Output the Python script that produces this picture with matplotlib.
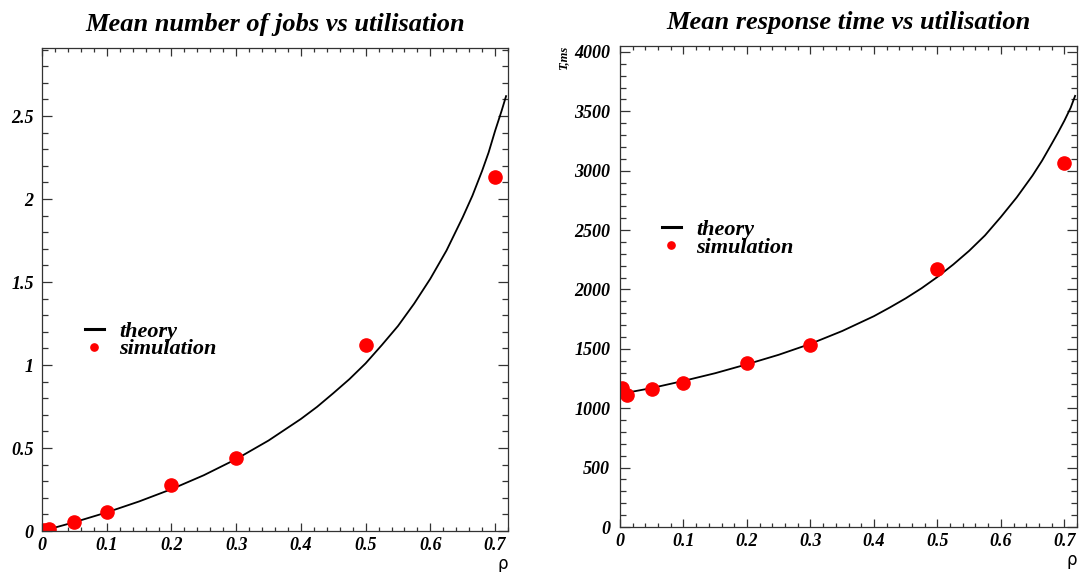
import numpy as np
import matplotlib
matplotlib.use('Agg')
import matplotlib.pyplot as plt
from matplotlib.ticker import MultipleLocator, FormatStrFormatter

# theory curves
rho_th = [0.01, 0.05, 0.1, 0.15, 0.2, 0.25, 0.3, 0.35, 0.4, 0.425, 0.45, 0.475, 0.5,
          0.525, 0.55, 0.575, 0.6, 0.625, 0.65, 0.665, 0.68, 0.69, 0.7, 0.71, 0.717]
n_th = [0.01, 0.053, 0.112, 0.178, 0.252, 0.336, 0.433, 0.545, 0.675, 0.748, 0.83, 0.915, 1.01,
        1.12, 1.235, 1.37, 1.52, 1.69, 1.89, 2.02, 2.17, 2.28, 2.41, 2.53, 2.62]
t_th = [1130, 1170, 1230, 1295, 1370, 1450, 1542, 1650, 1775, 1848, 1925, 2010, 2105,
        2210, 2325, 2455, 2610, 2775, 2960, 3085, 3225, 3320, 3420, 3530, 3630]

# simulation points
rho_sim = [0.003, 0.011, 0.05, 0.1, 0.2, 0.3, 0.5, 0.7]
n_sim = [0.004, 0.012, 0.055, 0.115, 0.28, 0.44, 1.12, 2.13]
t_sim = [1170, 1110, 1160, 1210, 1385, 1530, 2175, 3065]

titles = ['Mean number of jobs vs utilisation', 'Mean response time vs utilisation']

bi = dict(family='Liberation Serif', weight='bold', style='italic')

fig = plt.figure(figsize=(10.8, 5.72), dpi=100)
ax1 = fig.add_axes([42/1080, 41/572, 466/1080, 483/572])
ax2 = fig.add_axes([620/1080, 45/572, 457/1080, 481/572])


def style(ax, ymaj, ymin, ypad):
    ax.xaxis.set_major_locator(MultipleLocator(0.1))
    ax.xaxis.set_minor_locator(MultipleLocator(0.02))
    ax.yaxis.set_major_locator(MultipleLocator(ymaj))
    ax.yaxis.set_minor_locator(MultipleLocator(ymin))
    ax.xaxis.set_major_formatter(FormatStrFormatter('%g'))
    ax.yaxis.set_major_formatter(FormatStrFormatter('%g'))
    ax.tick_params(which='both', direction='in', top=True, right=True, width=0.9, colors='#333333')
    ax.tick_params(axis='x', which='major', length=6, pad=4)
    ax.tick_params(axis='x', which='minor', length=3)
    ax.tick_params(axis='y', which='major', length=7.5, pad=ypad)
    ax.tick_params(axis='y', which='minor', length=4.5)
    for lab in ax.get_xticklabels() + ax.get_yticklabels():
        lab.set_fontfamily('Liberation Serif')
        lab.set_fontweight('bold')
        lab.set_fontstyle('italic')
        lab.set_fontsize(13)
        lab.set_color('black')
    for s in ax.spines.values():
        s.set_color('#333333')
        s.set_linewidth(0.9)
    ax.set_xlim(0, 0.72)


for ax, yth, ysim, title in [(ax1, n_th, n_sim, titles[0]), (ax2, t_th, t_sim, titles[1])]:
    ax.plot(rho_th, yth, color='black', lw=1.3, label='theory')
    ax.plot(rho_sim, ysim, 'o', color='red', ms=9.5, mec='red', label='simulation')
    ax.set_title(title, fontsize=19, pad=12, **bi)
    ax.text(1.0, -0.068, 'ρ', transform=ax.transAxes, ha='right', va='center',
            fontsize=12, family='DejaVu Sans')

ax1.set_ylim(0, 2.91)
ax2.set_ylim(0, 4050)
style(ax1, 0.5, 0.1, 6)
style(ax2, 500, 100, 7)

ax2.text(-0.124, 1.0, 'T,ms', transform=ax2.transAxes, rotation=90, ha='center', va='top',
         fontsize=9, **bi)

leg_kw = dict(frameon=False, prop=dict(size=16, **bi), handlelength=0.85, handletextpad=0.7,
              labelspacing=-0.12, borderpad=0, borderaxespad=0, markerscale=0.55,
              loc='center left')
l1 = ax1.legend(bbox_to_anchor=(0.092, 0.395), **leg_kw)
l2 = ax2.legend(bbox_to_anchor=(0.092, 0.599), **leg_kw)
for l in (l1, l2):
    l.get_lines()[0].set_linewidth(2.2)

fig.savefig('out.png', dpi=100)
